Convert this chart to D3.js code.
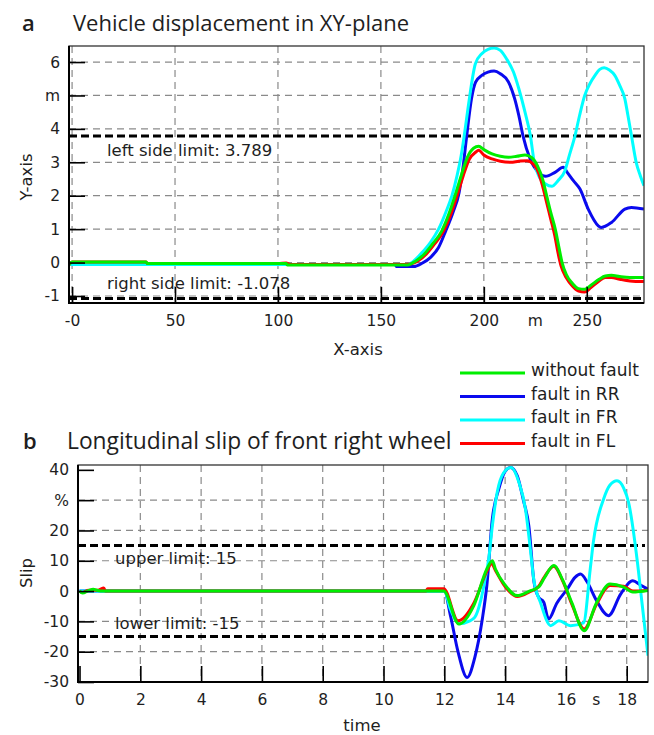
<!DOCTYPE html>
<html>
<head>
<meta charset="utf-8">
<script src="https://cdn.jsdelivr.net/npm/d3@7"></script>
<style>
  body { margin: 0; background: #fff; }
  svg text { font-family: "DejaVu Sans", sans-serif; fill: #1e1e1e; }
  svg text.title { font-family: "Open Sans", sans-serif; }
</style>
</head>
<body>
<div id="chart"></div>
<script>
// series names / colours shared by both panels
var seriesNames  = ["without fault", "fault in RR", "fault in FR", "fault in FL"];
var seriesColors = ["#00ee00", "#0a0aee", "#00ffff", "#ff0000"];

// panel a: x distance (m) vs y displacement (m)
var dispNoFault = [[-1.5,-0.06],[0,0.02],[36,0.02],[36.5,-0.03],[104,-0.03],[104.5,-0.07],[163,-0.07],[167,0.05],[171,0.25],[175,0.55],[179.6,0.95],[183,1.45],[186,2.0],[189,2.6],[192,3.15],[195,3.42],[197.5,3.48],[200,3.38],[204,3.25],[208,3.18],[212,3.15],[216,3.18],[220,3.22],[223,3.15],[226,2.9],[228.5,2.5],[230.5,2.0],[232.5,1.5],[234.7,1.0],[236.5,0.45],[238,0.0],[240,-0.35],[243,-0.62],[246,-0.78],[249,-0.8],[252,-0.68],[256,-0.5],[259,-0.4],[262,-0.38],[266,-0.42],[271,-0.45],[277.8,-0.45]];
var dispFaultRR = [[-1.5,-0.06],[157,-0.06],[157.5,-0.12],[166,-0.12],[170,-0.02],[174,0.15],[178,0.45],[181.5,0.95],[185,1.5],[188,2.1],[190,2.9],[191.7,3.8],[194,4.9],[196,5.4],[199,5.6],[202,5.7],[205,5.73],[208,5.65],[212,5.4],[215,4.9],[217,4.4],[219,3.8],[222.5,3.1],[226.5,2.7],[230,2.58],[234.6,2.7],[238.6,2.85],[240.5,2.7],[243.5,2.45],[246.7,2.2],[250.7,1.6],[255.6,1.1],[257,1.05],[262,1.2],[268.5,1.6],[271.7,1.65],[277.8,1.6]];
var dispFaultFR = [[-1.5,-0.06],[163,-0.06],[166,0.05],[170,0.3],[174,0.6],[178,1.0],[181.5,1.5],[184.5,2.0],[187,2.6],[189,3.2],[190.5,3.8],[192.5,4.7],[195.9,5.95],[199,6.25],[202,6.38],[205,6.42],[208,6.35],[211,6.1],[214.4,5.7],[217,5.2],[220,4.5],[222.6,3.8],[224.5,3.0],[227,2.55],[230,2.35],[233,2.28],[236,2.45],[239.4,2.75],[241.5,3.2],[244.3,3.8],[246.5,4.4],[249,5.0],[251.5,5.35],[254,5.6],[256.3,5.78],[258.5,5.83],[261,5.76],[263.6,5.6],[266,5.3],[268.5,4.9],[270,4.4],[271.7,3.8],[274,3.0],[276,2.6],[277.8,2.3]];
var dispFaultFL = [[-1.5,-0.06],[0,0.02],[36,0.02],[36.5,-0.03],[100,-0.03],[104,-0.01],[106,-0.06],[160,-0.06],[164.5,-0.04],[168,0.05],[172,0.25],[176,0.55],[180.5,0.95],[184,1.45],[187,2.0],[190,2.6],[193,3.1],[196,3.3],[197.5,3.36],[200,3.22],[204,3.1],[208,3.03],[213,3.0],[217,3.03],[221,3.05],[224,2.95],[226.5,2.7],[228.5,2.3],[230.5,1.8],[232.5,1.3],[234.5,0.8],[236,0.3],[237.5,-0.1],[240,-0.45],[243,-0.7],[246,-0.85],[249,-0.88],[252,-0.75],[256,-0.55],[259,-0.45],[262,-0.45],[266,-0.5],[271,-0.55],[277.8,-0.57]];
var dispTicksX = [0, 50, 100, 150, 200, 250];
var dispTicksY = [-1, 0, 1, 2, 3, 4, 5, 6];
var dispLimits = [3.789, -1.078];

// panel b: time (s) vs longitudinal slip (%)
var slipNoFault = [[0,0],[0.1,-0.6],[0.3,0.2],[0.45,0.6],[0.6,0.2],[0.8,0],[11.98,0],[12.48,-10.9],[12.97,-4.8],[13.4,7.3],[13.58,10],[13.68,7.3],[14.0,2],[14.4,-1.5],[14.8,0],[15.1,1.3],[15.3,4.5],[15.6,8.4],[15.9,3.5],[16.2,-4],[16.6,-13.1],[17.0,-4],[17.45,2.3],[17.9,1.3],[18.2,-0.3],[18.7,0.2]];
var slipFaultRR = [[0,0],[12,0],[12.2,-8],[12.45,-20],[12.75,-28.5],[13.0,-22],[13.25,-9.2],[13.4,2],[13.58,23.8],[13.8,34],[14.0,39.5],[14.18,40.8],[14.4,38],[14.6,30],[14.78,21.5],[14.95,3],[15.1,-2],[15.27,-3.7],[15.43,-9.2],[15.7,-4],[16.04,0.6],[16.3,4.5],[16.48,5.6],[16.7,3],[17.0,-3],[17.4,-8.1],[17.8,-1],[18.2,3.4],[18.45,2],[18.7,0.6]];
var slipFaultFR = [[0,0],[12,0],[12.2,-6],[12.5,-10.8],[12.8,-10],[13.0,-8.7],[13.2,-3],[13.36,5],[13.46,10.5],[13.58,21.5],[13.74,32.6],[13.95,39],[14.2,40.8],[14.45,36],[14.67,27],[14.85,12],[14.94,4],[15.16,-3.7],[15.5,-11.4],[15.77,-9.8],[16.15,-11.4],[16.58,-10.5],[16.8,7.3],[16.9,16],[17.24,30.4],[17.45,35],[17.68,36.4],[17.9,34],[18.06,29.3],[18.34,10.5],[18.5,-3.7],[18.7,-21.3]];
var slipFaultFL = [[0,0],[0.1,-0.5],[0.3,0.3],[0.6,0.3],[0.8,1],[0.85,0],[11.4,0],[11.45,0.8],[11.98,0.8],[12.45,-9.8],[12.97,-4],[13.4,6.5],[13.55,9],[13.7,6.5],[14.0,1.5],[14.4,-1.8],[14.8,-0.3],[15.1,1.5],[15.3,4.8],[15.6,8.2],[15.9,3.2],[16.2,-4.5],[16.6,-12.5],[17.0,-4.5],[17.45,1.8],[17.9,1.6],[18.2,0],[18.7,0.3]];
var slipTicksX = [0, 2, 4, 6, 8, 10, 12, 14, 16, 18];
var slipTicksY = [-30, -20, -10, 0, 10, 20, 30, 40];
var slipLimits = [15, -15];

var svg = d3.select("#chart").append("svg")
    .attr("width", 654)
    .attr("height", 735);

function drawPanel(cfg) {
  var g = svg.append("g");
  var x = d3.scaleLinear().domain(cfg.xDomain).range([cfg.box.left, cfg.box.right]);
  var y = d3.scaleLinear().domain(cfg.yDomain).range([cfg.box.bottom, cfg.box.top]);

  // dashed grid
  g.append("g").selectAll("line")
      .data(cfg.gridY)
      .enter().append("line")
        .attr("x1", cfg.box.left).attr("x2", cfg.box.right)
        .attr("y1", d => y(d)).attr("y2", d => y(d))
        .attr("stroke", "#8a8a8a").attr("stroke-width", 1.2)
        .attr("stroke-dasharray", "7,5");
  g.append("g").selectAll("line")
      .data(cfg.gridX)
      .enter().append("line")
        .attr("x1", d => x(d)).attr("x2", d => x(d))
        .attr("y1", cfg.box.top).attr("y2", cfg.box.bottom)
        .attr("stroke", "#8a8a8a").attr("stroke-width", 1.2)
        .attr("stroke-dasharray", "7,5");

  // limit lines
  g.append("g").selectAll("line")
      .data(cfg.limits)
      .enter().append("line")
        .attr("x1", cfg.box.left).attr("x2", cfg.box.right - 3)
        .attr("y1", d => y(d)).attr("y2", d => y(d))
        .attr("stroke", "#000").attr("stroke-width", 3)
        .attr("stroke-dasharray", "8,4");
  g.append("g").selectAll("text")
      .data(cfg.limits)
      .enter().append("text")
        .attr("x", cfg.limitLabelX)
        .attr("y", (d, i) => y(d) + cfg.limitLabelDy[i])
        .attr("font-size", 16.5)
        .text((d, i) => cfg.limitLabels[i]);

  // series
  var line = d3.line()
      .x(d => x(d[0]))
      .y(d => y(d[1]))
      .curve(d3.curveMonotoneX);
  var order = [1, 2, 3, 0];
  var clipId = "clip" + cfg.letter;
  g.append("clipPath").attr("id", clipId)
    .append("rect")
      .attr("x", cfg.box.left).attr("y", cfg.box.top)
      .attr("width", cfg.box.right - cfg.box.left)
      .attr("height", cfg.box.bottom - cfg.box.top);
  g.append("g").attr("clip-path", "url(#" + clipId + ")")
    .selectAll("path")
      .data(order)
      .enter().append("path")
        .attr("d", i => line(cfg.series[i]))
        .attr("fill", "none")
        .attr("stroke", i => seriesColors[i])
        .attr("stroke-width", 3)
        .attr("stroke-linejoin", "round");

  // axes: ticks point inward, no domain path
  var yAxis = g.append("g")
      .attr("transform", "translate(" + cfg.box.left + ",0)")
      .call(d3.axisLeft(y).tickValues(cfg.ticksY).tickSize(-16).tickPadding(9)
        .tickFormat(cfg.formatY));
  var xAxis = g.append("g")
      .attr("transform", "translate(0," + cfg.box.bottom + ")")
      .call(d3.axisBottom(x).tickValues(cfg.ticksX).tickSize(-16).tickPadding(12)
        .tickFormat(cfg.formatX));
  [yAxis, xAxis].forEach(function (a) {
    a.select(".domain").remove();
    a.selectAll(".tick line").attr("stroke", "#000").attr("stroke-width", 1.6);
    a.selectAll(".tick text")
      .attr("font-size", 15.5)
      .attr("font-family", "'DejaVu Sans', sans-serif")
      .attr("fill", "#1e1e1e");
  });
  // unit label on the x tick row
  g.append("text")
    .attr("x", x(cfg.unitX[0])).attr("y", cfg.box.bottom + 12)
    .attr("dy", "0.71em")
    .attr("text-anchor", "middle")
    .attr("font-size", 15.5)
    .text(cfg.unitX[1]);

  // frame
  g.append("rect")
    .attr("x", cfg.box.left).attr("y", cfg.box.top)
    .attr("width", cfg.box.right - cfg.box.left)
    .attr("height", cfg.box.bottom - cfg.box.top)
    .attr("fill", "none").attr("stroke", "#333").attr("stroke-width", 1.3);
  g.append("path")
    .attr("d", "M" + cfg.box.left + "," + cfg.box.top + "V" + cfg.box.bottom + "H" + cfg.box.right)
    .attr("fill", "none").attr("stroke", "#000").attr("stroke-width", 2);

  // titles
  g.append("text")
    .attr("class", "title")
    .attr("x", cfg.letterX).attr("y", cfg.titleY)
    .attr("font-size", 22)
    .attr("font-weight", 600)
    .text(cfg.letter);
  g.append("text")
    .attr("class", "title")
    .attr("x", cfg.titleX).attr("y", cfg.titleY)
    .attr("font-size", cfg.titleSize)
    .text(cfg.title);
  g.append("text")
    .attr("transform", "translate(32," + cfg.yTitleY + ") rotate(-90)")
    .attr("text-anchor", "middle")
    .attr("font-size", 16.5)
    .text(cfg.yTitle);
  g.append("text")
    .attr("x", cfg.xTitleX).attr("y", cfg.xTitleY)
    .attr("text-anchor", "middle")
    .attr("font-size", 16.5)
    .text(cfg.xTitle);
}

drawPanel({
  letter: "a", letterX: 22, titleX: 73, titleY: 31, titleSize: 22,
  title: "Vehicle displacement in XY-plane",
  box: {left: 69, right: 644, top: 46, bottom: 303},
  xDomain: [-1.5, 277.8], yDomain: [-1.21, 6.48],
  ticksX: dispTicksX, ticksY: dispTicksY,
  gridX: dispTicksX, gridY: dispTicksY,
  formatX: d => d === 0 ? "-0" : d,
  formatY: d => d === 5 ? "m" : d,
  unitX: [225, "m"],
  limits: dispLimits,
  limitLabels: ["left side limit: 3.789", "right side limit: -1.078"],
  limitLabelX: 107, limitLabelDy: [20, -10],
  series: [dispNoFault, dispFaultRR, dispFaultFR, dispFaultFL],
  yTitle: "Y-axis", yTitleY: 177,
  xTitle: "X-axis", xTitleX: 358, xTitleY: 355
});

drawPanel({
  letter: "b", letterX: 23, titleX: 67, titleY: 449, titleSize: 22.8,
  title: "Longitudinal slip of front right wheel",
  box: {left: 78, right: 648, top: 465, bottom: 682},
  xDomain: [-0.05, 18.7], yDomain: [-30, 41.6],
  ticksX: slipTicksX, ticksY: slipTicksY,
  gridX: slipTicksX.slice(1), gridY: slipTicksY.slice(1, -1),
  formatX: d => d,
  formatY: d => d === 30 ? "%" : d,
  unitX: [17, "s"],
  limits: slipLimits,
  limitLabels: ["upper limit:  15", "lower limit: -15"],
  limitLabelX: 115, limitLabelDy: [18, -8],
  series: [slipNoFault, slipFaultRR, slipFaultFR, slipFaultFL],
  yTitle: "Slip", yTitleY: 573,
  xTitle: "time", xTitleX: 362, xTitleY: 731
});

// legend between the panels
var legend = svg.append("g").attr("transform", "translate(460,373)");
legend.selectAll("line")
    .data(seriesNames)
    .enter().append("line")
      .attr("x1", 0).attr("x2", 65)
      .attr("y1", (d, i) => i * 23.5).attr("y2", (d, i) => i * 23.5)
      .attr("stroke", (d, i) => seriesColors[i])
      .attr("stroke-width", 3);
legend.selectAll("text")
    .data(seriesNames)
    .enter().append("text")
      .attr("x", 71)
      .attr("y", (d, i) => i * 23.5 - 2)
      .attr("dy", "0.3em")
      .attr("font-size", 17)
      .text(d => d);
</script>
</body>
</html>
